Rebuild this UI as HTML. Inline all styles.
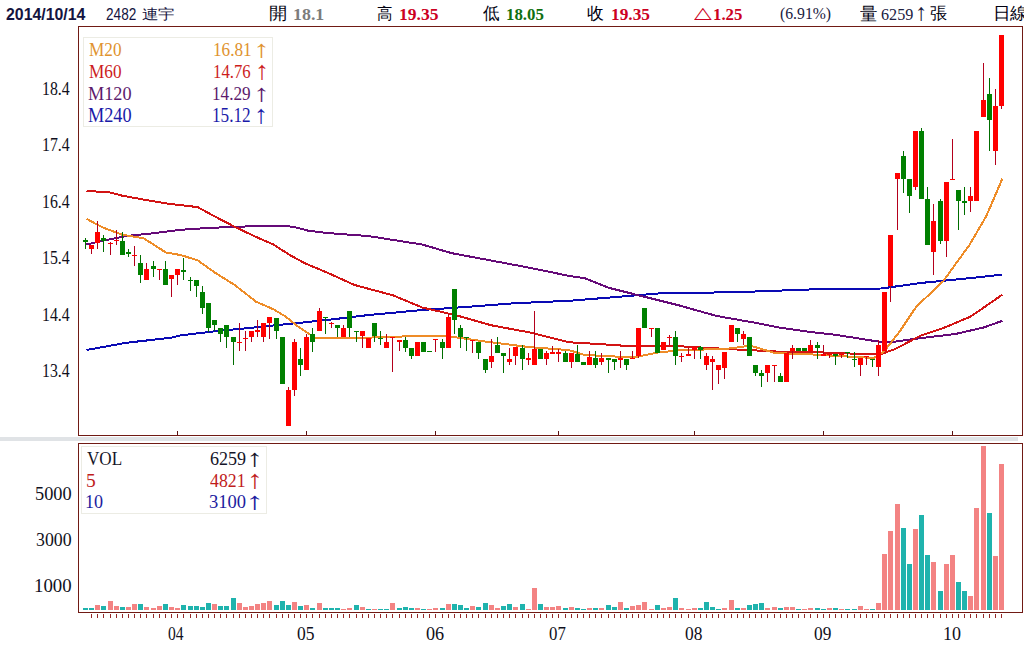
<!DOCTYPE html>
<html><head><meta charset="utf-8"><style>
html,body{margin:0;padding:0;background:#fff;width:1024px;height:662px;overflow:hidden}
.t{position:absolute;white-space:nowrap;line-height:1;transform-origin:0 0}
.s{font-family:"Liberation Serif",serif}
.a{font-family:"Liberation Sans",sans-serif}
</style></head><body>
<svg width="1024" height="662" style="position:absolute;left:0;top:0" shape-rendering="crispEdges">
<rect x="0" y="437" width="1018" height="4" fill="#e0e3e6"/>
<rect x="78.5" y="26.5" width="944" height="409" fill="none" stroke="#701a14" stroke-width="1"/>
<rect x="78.5" y="443.5" width="944" height="169" fill="none" stroke="#701a14" stroke-width="1"/>
<rect x="83.5" y="37.5" width="189" height="89" fill="none" stroke="#ecece4" stroke-width="1"/>
<rect x="81.5" y="446.5" width="185" height="67" fill="none" stroke="#ecece4" stroke-width="1"/>
<rect x="177" y="431" width="1" height="4" fill="#5a1010"/><rect x="306" y="431" width="1" height="4" fill="#5a1010"/><rect x="435" y="431" width="1" height="4" fill="#5a1010"/><rect x="558" y="431" width="1" height="4" fill="#5a1010"/><rect x="694" y="431" width="1" height="4" fill="#5a1010"/><rect x="823" y="431" width="1" height="4" fill="#5a1010"/><rect x="952" y="431" width="1" height="4" fill="#5a1010"/>
<rect x="91" y="614" width="1" height="4" fill="#962828"/>
<rect x="97" y="614" width="1" height="4" fill="#962828"/>
<rect x="103" y="614" width="1" height="4" fill="#962828"/>
<rect x="110" y="614" width="1" height="4" fill="#962828"/>
<rect x="116" y="614" width="1" height="4" fill="#962828"/>
<rect x="122" y="614" width="1" height="4" fill="#962828"/>
<rect x="128" y="614" width="1" height="4" fill="#962828"/>
<rect x="134" y="614" width="1" height="4" fill="#962828"/>
<rect x="140" y="614" width="1" height="4" fill="#962828"/>
<rect x="146" y="614" width="1" height="4" fill="#962828"/>
<rect x="153" y="614" width="1" height="4" fill="#962828"/>
<rect x="159" y="614" width="1" height="4" fill="#962828"/>
<rect x="165" y="614" width="1" height="4" fill="#962828"/>
<rect x="171" y="614" width="1" height="4" fill="#962828"/>
<rect x="177" y="614" width="1" height="4" fill="#962828"/>
<rect x="183" y="614" width="1" height="4" fill="#962828"/>
<rect x="190" y="614" width="1" height="4" fill="#962828"/>
<rect x="196" y="614" width="1" height="4" fill="#962828"/>
<rect x="202" y="614" width="1" height="4" fill="#962828"/>
<rect x="208" y="614" width="1" height="4" fill="#962828"/>
<rect x="214" y="614" width="1" height="4" fill="#962828"/>
<rect x="220" y="614" width="1" height="4" fill="#962828"/>
<rect x="226" y="614" width="1" height="4" fill="#962828"/>
<rect x="233" y="614" width="1" height="4" fill="#962828"/>
<rect x="239" y="614" width="1" height="4" fill="#962828"/>
<rect x="245" y="614" width="1" height="4" fill="#962828"/>
<rect x="251" y="614" width="1" height="4" fill="#962828"/>
<rect x="257" y="614" width="1" height="4" fill="#962828"/>
<rect x="263" y="614" width="1" height="4" fill="#962828"/>
<rect x="269" y="614" width="1" height="4" fill="#962828"/>
<rect x="276" y="614" width="1" height="4" fill="#962828"/>
<rect x="282" y="614" width="1" height="4" fill="#962828"/>
<rect x="288" y="614" width="1" height="4" fill="#962828"/>
<rect x="294" y="614" width="1" height="4" fill="#962828"/>
<rect x="300" y="614" width="1" height="4" fill="#962828"/>
<rect x="306" y="614" width="1" height="4" fill="#962828"/>
<rect x="312" y="614" width="1" height="4" fill="#962828"/>
<rect x="319" y="614" width="1" height="4" fill="#962828"/>
<rect x="325" y="614" width="1" height="4" fill="#962828"/>
<rect x="331" y="614" width="1" height="4" fill="#962828"/>
<rect x="337" y="614" width="1" height="4" fill="#962828"/>
<rect x="343" y="614" width="1" height="4" fill="#962828"/>
<rect x="349" y="614" width="1" height="4" fill="#962828"/>
<rect x="356" y="614" width="1" height="4" fill="#962828"/>
<rect x="362" y="614" width="1" height="4" fill="#962828"/>
<rect x="368" y="614" width="1" height="4" fill="#962828"/>
<rect x="374" y="614" width="1" height="4" fill="#962828"/>
<rect x="380" y="614" width="1" height="4" fill="#962828"/>
<rect x="386" y="614" width="1" height="4" fill="#962828"/>
<rect x="392" y="614" width="1" height="4" fill="#962828"/>
<rect x="399" y="614" width="1" height="4" fill="#962828"/>
<rect x="405" y="614" width="1" height="4" fill="#962828"/>
<rect x="411" y="614" width="1" height="4" fill="#962828"/>
<rect x="417" y="614" width="1" height="4" fill="#962828"/>
<rect x="423" y="614" width="1" height="4" fill="#962828"/>
<rect x="429" y="614" width="1" height="4" fill="#962828"/>
<rect x="435" y="614" width="1" height="4" fill="#962828"/>
<rect x="442" y="614" width="1" height="4" fill="#962828"/>
<rect x="448" y="614" width="1" height="4" fill="#962828"/>
<rect x="454" y="614" width="1" height="4" fill="#962828"/>
<rect x="460" y="614" width="1" height="4" fill="#962828"/>
<rect x="466" y="614" width="1" height="4" fill="#962828"/>
<rect x="472" y="614" width="1" height="4" fill="#962828"/>
<rect x="478" y="614" width="1" height="4" fill="#962828"/>
<rect x="485" y="614" width="1" height="4" fill="#962828"/>
<rect x="491" y="614" width="1" height="4" fill="#962828"/>
<rect x="497" y="614" width="1" height="4" fill="#962828"/>
<rect x="503" y="614" width="1" height="4" fill="#962828"/>
<rect x="509" y="614" width="1" height="4" fill="#962828"/>
<rect x="515" y="614" width="1" height="4" fill="#962828"/>
<rect x="522" y="614" width="1" height="4" fill="#962828"/>
<rect x="528" y="614" width="1" height="4" fill="#962828"/>
<rect x="534" y="614" width="1" height="4" fill="#962828"/>
<rect x="540" y="614" width="1" height="4" fill="#962828"/>
<rect x="546" y="614" width="1" height="4" fill="#962828"/>
<rect x="552" y="614" width="1" height="4" fill="#962828"/>
<rect x="558" y="614" width="1" height="4" fill="#962828"/>
<rect x="565" y="614" width="1" height="4" fill="#962828"/>
<rect x="571" y="614" width="1" height="4" fill="#962828"/>
<rect x="577" y="614" width="1" height="4" fill="#962828"/>
<rect x="583" y="614" width="1" height="4" fill="#962828"/>
<rect x="589" y="614" width="1" height="4" fill="#962828"/>
<rect x="595" y="614" width="1" height="4" fill="#962828"/>
<rect x="601" y="614" width="1" height="4" fill="#962828"/>
<rect x="608" y="614" width="1" height="4" fill="#962828"/>
<rect x="614" y="614" width="1" height="4" fill="#962828"/>
<rect x="620" y="614" width="1" height="4" fill="#962828"/>
<rect x="626" y="614" width="1" height="4" fill="#962828"/>
<rect x="632" y="614" width="1" height="4" fill="#962828"/>
<rect x="638" y="614" width="1" height="4" fill="#962828"/>
<rect x="644" y="614" width="1" height="4" fill="#962828"/>
<rect x="651" y="614" width="1" height="4" fill="#962828"/>
<rect x="657" y="614" width="1" height="4" fill="#962828"/>
<rect x="663" y="614" width="1" height="4" fill="#962828"/>
<rect x="669" y="614" width="1" height="4" fill="#962828"/>
<rect x="675" y="614" width="1" height="4" fill="#962828"/>
<rect x="681" y="614" width="1" height="4" fill="#962828"/>
<rect x="688" y="614" width="1" height="4" fill="#962828"/>
<rect x="694" y="614" width="1" height="4" fill="#962828"/>
<rect x="700" y="614" width="1" height="4" fill="#962828"/>
<rect x="706" y="614" width="1" height="4" fill="#962828"/>
<rect x="712" y="614" width="1" height="4" fill="#962828"/>
<rect x="718" y="614" width="1" height="4" fill="#962828"/>
<rect x="724" y="614" width="1" height="4" fill="#962828"/>
<rect x="731" y="614" width="1" height="4" fill="#962828"/>
<rect x="737" y="614" width="1" height="4" fill="#962828"/>
<rect x="743" y="614" width="1" height="4" fill="#962828"/>
<rect x="749" y="614" width="1" height="4" fill="#962828"/>
<rect x="755" y="614" width="1" height="4" fill="#962828"/>
<rect x="761" y="614" width="1" height="4" fill="#962828"/>
<rect x="767" y="614" width="1" height="4" fill="#962828"/>
<rect x="774" y="614" width="1" height="4" fill="#962828"/>
<rect x="780" y="614" width="1" height="4" fill="#962828"/>
<rect x="786" y="614" width="1" height="4" fill="#962828"/>
<rect x="792" y="614" width="1" height="4" fill="#962828"/>
<rect x="798" y="614" width="1" height="4" fill="#962828"/>
<rect x="804" y="614" width="1" height="4" fill="#962828"/>
<rect x="810" y="614" width="1" height="4" fill="#962828"/>
<rect x="817" y="614" width="1" height="4" fill="#962828"/>
<rect x="823" y="614" width="1" height="4" fill="#962828"/>
<rect x="829" y="614" width="1" height="4" fill="#962828"/>
<rect x="835" y="614" width="1" height="4" fill="#962828"/>
<rect x="841" y="614" width="1" height="4" fill="#962828"/>
<rect x="847" y="614" width="1" height="4" fill="#962828"/>
<rect x="854" y="614" width="1" height="4" fill="#962828"/>
<rect x="860" y="614" width="1" height="4" fill="#962828"/>
<rect x="866" y="614" width="1" height="4" fill="#962828"/>
<rect x="872" y="614" width="1" height="4" fill="#962828"/>
<rect x="878" y="614" width="1" height="4" fill="#962828"/>
<rect x="884" y="614" width="1" height="4" fill="#962828"/>
<rect x="890" y="614" width="1" height="4" fill="#962828"/>
<rect x="897" y="614" width="1" height="4" fill="#962828"/>
<rect x="903" y="614" width="1" height="4" fill="#962828"/>
<rect x="909" y="614" width="1" height="4" fill="#962828"/>
<rect x="915" y="614" width="1" height="4" fill="#962828"/>
<rect x="921" y="614" width="1" height="4" fill="#962828"/>
<rect x="927" y="614" width="1" height="4" fill="#962828"/>
<rect x="933" y="614" width="1" height="4" fill="#962828"/>
<rect x="940" y="614" width="1" height="4" fill="#962828"/>
<rect x="946" y="614" width="1" height="4" fill="#962828"/>
<rect x="952" y="614" width="1" height="4" fill="#962828"/>
<rect x="958" y="614" width="1" height="4" fill="#962828"/>
<rect x="964" y="614" width="1" height="4" fill="#962828"/>
<rect x="970" y="614" width="1" height="4" fill="#962828"/>
<rect x="976" y="614" width="1" height="4" fill="#962828"/>
<rect x="983" y="614" width="1" height="4" fill="#962828"/>
<rect x="989" y="614" width="1" height="4" fill="#962828"/>
<rect x="995" y="614" width="1" height="4" fill="#962828"/>
<rect x="1001" y="614" width="1" height="4" fill="#962828"/>
<rect x="83" y="608" width="5" height="2" fill="#1fb3ad"/>
<rect x="89" y="608" width="5" height="2" fill="#1fb3ad"/>
<rect x="95" y="605" width="5" height="5" fill="#f38383"/>
<rect x="101" y="606" width="5" height="4" fill="#1fb3ad"/>
<rect x="108" y="601" width="5" height="9" fill="#f38383"/>
<rect x="114" y="606" width="5" height="4" fill="#f38383"/>
<rect x="120" y="607" width="5" height="3" fill="#1fb3ad"/>
<rect x="126" y="607" width="5" height="3" fill="#f38383"/>
<rect x="132" y="604" width="5" height="6" fill="#f38383"/>
<rect x="138" y="604" width="5" height="6" fill="#1fb3ad"/>
<rect x="144" y="607" width="5" height="3" fill="#f38383"/>
<rect x="151" y="608" width="5" height="2" fill="#f38383"/>
<rect x="157" y="606" width="5" height="4" fill="#f38383"/>
<rect x="163" y="604" width="5" height="6" fill="#1fb3ad"/>
<rect x="169" y="607" width="5" height="3" fill="#f38383"/>
<rect x="175" y="608" width="5" height="2" fill="#f38383"/>
<rect x="181" y="605" width="5" height="5" fill="#1fb3ad"/>
<rect x="188" y="606" width="5" height="4" fill="#1fb3ad"/>
<rect x="194" y="606" width="5" height="4" fill="#1fb3ad"/>
<rect x="200" y="607" width="5" height="3" fill="#1fb3ad"/>
<rect x="206" y="603" width="5" height="7" fill="#1fb3ad"/>
<rect x="212" y="604" width="5" height="6" fill="#f38383"/>
<rect x="218" y="606" width="5" height="4" fill="#1fb3ad"/>
<rect x="224" y="606" width="5" height="4" fill="#1fb3ad"/>
<rect x="231" y="598" width="5" height="12" fill="#1fb3ad"/>
<rect x="237" y="603" width="5" height="7" fill="#f38383"/>
<rect x="243" y="607" width="5" height="3" fill="#f38383"/>
<rect x="249" y="606" width="5" height="4" fill="#f38383"/>
<rect x="255" y="604" width="5" height="6" fill="#f38383"/>
<rect x="261" y="603" width="5" height="7" fill="#f38383"/>
<rect x="267" y="601" width="5" height="9" fill="#f38383"/>
<rect x="274" y="605" width="5" height="5" fill="#1fb3ad"/>
<rect x="280" y="601" width="5" height="9" fill="#1fb3ad"/>
<rect x="286" y="605" width="5" height="5" fill="#1fb3ad"/>
<rect x="292" y="602" width="5" height="8" fill="#f38383"/>
<rect x="298" y="606" width="5" height="4" fill="#1fb3ad"/>
<rect x="304" y="605" width="5" height="5" fill="#f38383"/>
<rect x="310" y="608" width="5" height="2" fill="#1fb3ad"/>
<rect x="317" y="603" width="5" height="7" fill="#f38383"/>
<rect x="323" y="608" width="5" height="2" fill="#1fb3ad"/>
<rect x="329" y="608" width="5" height="2" fill="#1fb3ad"/>
<rect x="335" y="608" width="5" height="2" fill="#1fb3ad"/>
<rect x="341" y="609" width="5" height="1" fill="#f38383"/>
<rect x="347" y="608" width="5" height="2" fill="#f38383"/>
<rect x="354" y="605" width="5" height="5" fill="#1fb3ad"/>
<rect x="360" y="607" width="5" height="3" fill="#f38383"/>
<rect x="366" y="609" width="5" height="1" fill="#1fb3ad"/>
<rect x="372" y="609" width="5" height="1" fill="#f38383"/>
<rect x="378" y="609" width="5" height="1" fill="#1fb3ad"/>
<rect x="384" y="609" width="5" height="1" fill="#1fb3ad"/>
<rect x="390" y="603" width="5" height="7" fill="#f38383"/>
<rect x="397" y="608" width="5" height="2" fill="#1fb3ad"/>
<rect x="403" y="607" width="5" height="3" fill="#1fb3ad"/>
<rect x="409" y="608" width="5" height="2" fill="#1fb3ad"/>
<rect x="415" y="608" width="5" height="2" fill="#f38383"/>
<rect x="421" y="609" width="5" height="1" fill="#1fb3ad"/>
<rect x="427" y="609" width="5" height="1" fill="#f38383"/>
<rect x="433" y="608" width="5" height="2" fill="#f38383"/>
<rect x="440" y="608" width="5" height="2" fill="#1fb3ad"/>
<rect x="446" y="604" width="5" height="6" fill="#f38383"/>
<rect x="452" y="604" width="5" height="6" fill="#1fb3ad"/>
<rect x="458" y="605" width="5" height="5" fill="#1fb3ad"/>
<rect x="464" y="608" width="5" height="2" fill="#1fb3ad"/>
<rect x="470" y="606" width="5" height="4" fill="#f38383"/>
<rect x="476" y="607" width="5" height="3" fill="#1fb3ad"/>
<rect x="483" y="603" width="5" height="7" fill="#1fb3ad"/>
<rect x="489" y="605" width="5" height="5" fill="#f38383"/>
<rect x="495" y="608" width="5" height="2" fill="#f38383"/>
<rect x="501" y="606" width="5" height="4" fill="#1fb3ad"/>
<rect x="507" y="604" width="5" height="6" fill="#1fb3ad"/>
<rect x="513" y="607" width="5" height="3" fill="#f38383"/>
<rect x="520" y="604" width="5" height="6" fill="#1fb3ad"/>
<rect x="526" y="609" width="5" height="1" fill="#f38383"/>
<rect x="532" y="588" width="5" height="22" fill="#f38383"/>
<rect x="538" y="604" width="5" height="6" fill="#1fb3ad"/>
<rect x="544" y="607" width="5" height="3" fill="#f38383"/>
<rect x="550" y="607" width="5" height="3" fill="#f38383"/>
<rect x="556" y="606" width="5" height="4" fill="#f38383"/>
<rect x="563" y="608" width="5" height="2" fill="#1fb3ad"/>
<rect x="569" y="607" width="5" height="3" fill="#f38383"/>
<rect x="575" y="608" width="5" height="2" fill="#1fb3ad"/>
<rect x="581" y="609" width="5" height="1" fill="#1fb3ad"/>
<rect x="587" y="608" width="5" height="2" fill="#f38383"/>
<rect x="593" y="608" width="5" height="2" fill="#1fb3ad"/>
<rect x="599" y="608" width="5" height="2" fill="#f38383"/>
<rect x="606" y="605" width="5" height="5" fill="#1fb3ad"/>
<rect x="612" y="607" width="5" height="3" fill="#1fb3ad"/>
<rect x="618" y="602" width="5" height="8" fill="#f38383"/>
<rect x="624" y="608" width="5" height="2" fill="#1fb3ad"/>
<rect x="630" y="606" width="5" height="4" fill="#f38383"/>
<rect x="636" y="605" width="5" height="5" fill="#f38383"/>
<rect x="642" y="602" width="5" height="8" fill="#f38383"/>
<rect x="649" y="609" width="5" height="1" fill="#f38383"/>
<rect x="655" y="605" width="5" height="5" fill="#1fb3ad"/>
<rect x="661" y="608" width="5" height="2" fill="#f38383"/>
<rect x="667" y="607" width="5" height="3" fill="#f38383"/>
<rect x="673" y="598" width="5" height="12" fill="#1fb3ad"/>
<rect x="679" y="608" width="5" height="2" fill="#f38383"/>
<rect x="686" y="609" width="5" height="1" fill="#f38383"/>
<rect x="692" y="608" width="5" height="2" fill="#f38383"/>
<rect x="698" y="608" width="5" height="2" fill="#1fb3ad"/>
<rect x="704" y="602" width="5" height="8" fill="#1fb3ad"/>
<rect x="710" y="607" width="5" height="3" fill="#1fb3ad"/>
<rect x="716" y="609" width="5" height="1" fill="#1fb3ad"/>
<rect x="722" y="608" width="5" height="2" fill="#f38383"/>
<rect x="729" y="600" width="5" height="10" fill="#f38383"/>
<rect x="735" y="608" width="5" height="2" fill="#1fb3ad"/>
<rect x="741" y="608" width="5" height="2" fill="#f38383"/>
<rect x="747" y="605" width="5" height="5" fill="#1fb3ad"/>
<rect x="753" y="604" width="5" height="6" fill="#1fb3ad"/>
<rect x="759" y="603" width="5" height="7" fill="#1fb3ad"/>
<rect x="765" y="608" width="5" height="2" fill="#f38383"/>
<rect x="772" y="607" width="5" height="3" fill="#f38383"/>
<rect x="778" y="608" width="5" height="2" fill="#1fb3ad"/>
<rect x="784" y="607" width="5" height="3" fill="#f38383"/>
<rect x="790" y="607" width="5" height="3" fill="#f38383"/>
<rect x="796" y="609" width="5" height="1" fill="#1fb3ad"/>
<rect x="802" y="609" width="5" height="1" fill="#f38383"/>
<rect x="808" y="608" width="5" height="2" fill="#f38383"/>
<rect x="815" y="608" width="5" height="2" fill="#1fb3ad"/>
<rect x="821" y="609" width="5" height="1" fill="#1fb3ad"/>
<rect x="827" y="608" width="5" height="2" fill="#f38383"/>
<rect x="833" y="608" width="5" height="2" fill="#1fb3ad"/>
<rect x="839" y="609" width="5" height="1" fill="#f38383"/>
<rect x="845" y="609" width="5" height="1" fill="#1fb3ad"/>
<rect x="852" y="609" width="5" height="1" fill="#1fb3ad"/>
<rect x="858" y="606" width="5" height="4" fill="#f38383"/>
<rect x="864" y="609" width="5" height="1" fill="#f38383"/>
<rect x="870" y="609" width="5" height="1" fill="#1fb3ad"/>
<rect x="876" y="603" width="5" height="7" fill="#f38383"/>
<rect x="882" y="554" width="5" height="56" fill="#f38383"/>
<rect x="888" y="531" width="5" height="79" fill="#f38383"/>
<rect x="895" y="504" width="5" height="106" fill="#f38383"/>
<rect x="901" y="528" width="5" height="82" fill="#1fb3ad"/>
<rect x="907" y="564" width="5" height="46" fill="#1fb3ad"/>
<rect x="913" y="529" width="5" height="81" fill="#f38383"/>
<rect x="919" y="515" width="5" height="95" fill="#1fb3ad"/>
<rect x="925" y="555" width="5" height="55" fill="#1fb3ad"/>
<rect x="931" y="562" width="5" height="48" fill="#f38383"/>
<rect x="938" y="591" width="5" height="19" fill="#1fb3ad"/>
<rect x="944" y="564" width="5" height="46" fill="#f38383"/>
<rect x="950" y="555" width="5" height="55" fill="#f38383"/>
<rect x="956" y="582" width="5" height="28" fill="#1fb3ad"/>
<rect x="962" y="591" width="5" height="19" fill="#1fb3ad"/>
<rect x="968" y="596" width="5" height="14" fill="#f38383"/>
<rect x="974" y="508" width="5" height="102" fill="#f38383"/>
<rect x="981" y="446" width="5" height="164" fill="#f38383"/>
<rect x="987" y="513" width="5" height="97" fill="#1fb3ad"/>
<rect x="993" y="556" width="5" height="54" fill="#f38383"/>
<rect x="999" y="464" width="5" height="146" fill="#f38383"/>
<polyline points="86.5,350.0 126.8,342.7 170.8,337.8 180.5,335.4 214.7,331.3 248.9,328.0 288.0,324.0 327.0,320.0 368.8,315.0 422.5,310.0 466.5,306.9 515.3,303.2 569.0,300.8 608.8,297.6 657.7,293.5 706.5,292.7 755.3,291.5 809.0,289.5 881.4,288.5 920.5,283.0 969.3,278.2 1002.3,274.6" fill="none" stroke="#0a0ab4" stroke-width="2" stroke-linejoin="round"/><polyline points="86.5,244.5 102.4,240.8 126.8,235.9 151.2,233.5 180.5,229.8 209.8,227.9 234.3,226.9 268.4,225.7 292.8,226.6 307.5,230.5 327.0,233.0 368.8,236.1 422.5,244.6 451.8,253.2 490.9,260.5 530.0,267.8 569.0,275.9 584.4,278.1 608.8,287.8 638.1,295.2 677.2,304.9 716.3,315.9 755.3,322.8 779.7,327.6 809.0,331.8 835.0,334.7 876.5,341.3 890.0,342.3 917.7,338.5 955.5,334.0 984.0,327.4 1002.3,320.8" fill="none" stroke="#650a78" stroke-width="2" stroke-linejoin="round"/><polyline points="86.5,190.8 109.7,192.5 122.0,195.6 148.8,200.5 168.3,203.7 197.6,207.1 214.7,216.4 234.3,226.6 253.8,235.9 273.3,244.5 290.4,255.4 305.0,263.3 327.0,272.5 354.2,284.9 393.2,295.4 422.5,307.6 456.7,315.4 490.9,325.2 530.0,332.5 569.0,342.3 599.0,344.0 633.2,346.4 682.0,346.4 730.9,349.2 780.0,351.7 815.0,352.2 850.0,353.5 880.0,354.4 895.1,349.1 920.8,335.5 943.4,328.0 970.6,316.6 1002.3,294.7" fill="none" stroke="#d21414" stroke-width="2" stroke-linejoin="round"/><polyline points="86.5,218.8 102.4,227.4 122.0,234.7 143.9,238.4 165.9,252.5 180.5,255.0 197.6,260.3 214.7,272.5 234.3,284.7 256.2,301.8 273.3,309.2 285.5,316.5 297.7,326.2 315.0,337.8 393.2,337.4 412.8,335.5 437.2,335.5 456.7,337.4 490.9,342.3 530.0,347.2 569.0,350.1 584.4,355.0 633.2,357.4 657.7,352.5 682.0,350.1 726.0,348.9 750.4,345.7 774.8,353.0 815.0,354.6 856.0,357.0 874.0,358.0 884.5,351.0 900.0,331.0 916.2,306.8 943.4,281.1 958.5,260.0 969.3,245.2 986.4,215.9 1002.3,178.8" fill="none" stroke="#ee8c28" stroke-width="2" stroke-linejoin="round"/>
<rect x="85" y="238" width="1" height="11" fill="#006e00"/>
<rect x="83" y="240" width="5" height="2" fill="#008000"/>
<rect x="91" y="245" width="1" height="9" fill="#b4001c"/>
<rect x="89" y="245" width="5" height="4" fill="#ff0000"/>
<rect x="97" y="221" width="1" height="28" fill="#b4001c"/>
<rect x="95" y="232" width="5" height="11" fill="#ff0000"/>
<rect x="103" y="235" width="1" height="17" fill="#006e00"/>
<rect x="101" y="238" width="5" height="3" fill="#008000"/>
<rect x="110" y="242" width="1" height="13" fill="#b4001c"/>
<rect x="108" y="243" width="5" height="1" fill="#ff0000"/>
<rect x="116" y="230" width="1" height="15" fill="#b4001c"/>
<rect x="114" y="240" width="5" height="1" fill="#ff0000"/>
<rect x="122" y="232" width="1" height="23" fill="#006e00"/>
<rect x="120" y="241" width="5" height="14" fill="#008000"/>
<rect x="128" y="249" width="1" height="8" fill="#006e00"/>
<rect x="126" y="252" width="5" height="2" fill="#008000"/>
<rect x="134" y="246" width="1" height="20" fill="#b4001c"/>
<rect x="132" y="255" width="5" height="1" fill="#ff0000"/>
<rect x="140" y="255" width="1" height="28" fill="#006e00"/>
<rect x="138" y="263" width="5" height="12" fill="#008000"/>
<rect x="146" y="263" width="1" height="17" fill="#b4001c"/>
<rect x="144" y="269" width="5" height="11" fill="#ff0000"/>
<rect x="153" y="261" width="1" height="16" fill="#006e00"/>
<rect x="151" y="266" width="5" height="3" fill="#008000"/>
<rect x="159" y="269" width="1" height="11" fill="#b4001c"/>
<rect x="157" y="269" width="5" height="1" fill="#ff0000"/>
<rect x="165" y="261" width="1" height="24" fill="#006e00"/>
<rect x="163" y="269" width="5" height="16" fill="#008000"/>
<rect x="171" y="275" width="1" height="22" fill="#b4001c"/>
<rect x="169" y="275" width="5" height="4" fill="#ff0000"/>
<rect x="177" y="269" width="1" height="16" fill="#b4001c"/>
<rect x="175" y="269" width="5" height="6" fill="#ff0000"/>
<rect x="183" y="258" width="1" height="22" fill="#006e00"/>
<rect x="181" y="270" width="5" height="2" fill="#008000"/>
<rect x="190" y="277" width="1" height="14" fill="#006e00"/>
<rect x="188" y="280" width="5" height="1" fill="#008000"/>
<rect x="196" y="280" width="1" height="17" fill="#006e00"/>
<rect x="194" y="280" width="5" height="6" fill="#008000"/>
<rect x="202" y="286" width="1" height="28" fill="#006e00"/>
<rect x="200" y="292" width="5" height="16" fill="#008000"/>
<rect x="208" y="303" width="1" height="29" fill="#006e00"/>
<rect x="206" y="303" width="5" height="25" fill="#008000"/>
<rect x="214" y="320" width="1" height="11" fill="#006e00"/>
<rect x="212" y="320" width="5" height="5" fill="#008000"/>
<rect x="220" y="328" width="1" height="14" fill="#006e00"/>
<rect x="218" y="328" width="5" height="6" fill="#008000"/>
<rect x="226" y="325" width="1" height="23" fill="#006e00"/>
<rect x="224" y="325" width="5" height="12" fill="#008000"/>
<rect x="233" y="337" width="1" height="28" fill="#006e00"/>
<rect x="231" y="337" width="5" height="5" fill="#008000"/>
<rect x="239" y="323" width="1" height="28" fill="#b4001c"/>
<rect x="237" y="342" width="5" height="1" fill="#ff0000"/>
<rect x="245" y="331" width="1" height="20" fill="#b4001c"/>
<rect x="243" y="338" width="5" height="1" fill="#ff0000"/>
<rect x="251" y="331" width="1" height="11" fill="#b4001c"/>
<rect x="249" y="331" width="5" height="6" fill="#ff0000"/>
<rect x="257" y="320" width="1" height="17" fill="#b4001c"/>
<rect x="255" y="330" width="5" height="2" fill="#ff0000"/>
<rect x="263" y="323" width="1" height="19" fill="#b4001c"/>
<rect x="261" y="323" width="5" height="14" fill="#ff0000"/>
<rect x="269" y="317" width="1" height="22" fill="#b4001c"/>
<rect x="267" y="317" width="5" height="6" fill="#ff0000"/>
<rect x="276" y="318" width="1" height="21" fill="#006e00"/>
<rect x="274" y="318" width="5" height="13" fill="#008000"/>
<rect x="282" y="337" width="1" height="47" fill="#006e00"/>
<rect x="280" y="337" width="5" height="47" fill="#008000"/>
<rect x="288" y="387" width="1" height="39" fill="#b4001c"/>
<rect x="286" y="390" width="5" height="36" fill="#ff0000"/>
<rect x="294" y="339" width="1" height="57" fill="#b4001c"/>
<rect x="292" y="342" width="5" height="48" fill="#ff0000"/>
<rect x="300" y="348" width="1" height="28" fill="#006e00"/>
<rect x="298" y="359" width="5" height="6" fill="#008000"/>
<rect x="306" y="334" width="1" height="36" fill="#b4001c"/>
<rect x="304" y="337" width="5" height="33" fill="#ff0000"/>
<rect x="312" y="328" width="1" height="24" fill="#006e00"/>
<rect x="310" y="334" width="5" height="8" fill="#008000"/>
<rect x="319" y="308" width="1" height="23" fill="#b4001c"/>
<rect x="317" y="311" width="5" height="20" fill="#ff0000"/>
<rect x="325" y="317" width="1" height="17" fill="#006e00"/>
<rect x="323" y="317" width="5" height="1" fill="#008000"/>
<rect x="331" y="322" width="1" height="6" fill="#b4001c"/>
<rect x="329" y="323" width="5" height="1" fill="#ff0000"/>
<rect x="337" y="325" width="1" height="12" fill="#006e00"/>
<rect x="335" y="325" width="5" height="3" fill="#008000"/>
<rect x="343" y="325" width="1" height="12" fill="#b4001c"/>
<rect x="341" y="328" width="5" height="9" fill="#ff0000"/>
<rect x="349" y="311" width="1" height="26" fill="#006e00"/>
<rect x="347" y="311" width="5" height="17" fill="#008000"/>
<rect x="356" y="331" width="1" height="11" fill="#006e00"/>
<rect x="354" y="331" width="5" height="1" fill="#008000"/>
<rect x="362" y="331" width="1" height="17" fill="#b4001c"/>
<rect x="360" y="331" width="5" height="5" fill="#ff0000"/>
<rect x="368" y="338" width="1" height="10" fill="#b4001c"/>
<rect x="366" y="338" width="5" height="10" fill="#ff0000"/>
<rect x="374" y="323" width="1" height="19" fill="#006e00"/>
<rect x="372" y="323" width="5" height="13" fill="#008000"/>
<rect x="380" y="331" width="1" height="14" fill="#006e00"/>
<rect x="378" y="338" width="5" height="1" fill="#008000"/>
<rect x="386" y="334" width="1" height="14" fill="#b4001c"/>
<rect x="384" y="342" width="5" height="6" fill="#ff0000"/>
<rect x="392" y="337" width="1" height="35" fill="#b4001c"/>
<rect x="390" y="337" width="5" height="1" fill="#ff0000"/>
<rect x="399" y="340" width="1" height="11" fill="#b4001c"/>
<rect x="397" y="340" width="5" height="2" fill="#ff0000"/>
<rect x="405" y="337" width="1" height="15" fill="#006e00"/>
<rect x="403" y="340" width="5" height="8" fill="#008000"/>
<rect x="411" y="348" width="1" height="11" fill="#006e00"/>
<rect x="409" y="348" width="5" height="8" fill="#008000"/>
<rect x="417" y="342" width="1" height="14" fill="#b4001c"/>
<rect x="415" y="342" width="5" height="14" fill="#ff0000"/>
<rect x="423" y="342" width="1" height="10" fill="#006e00"/>
<rect x="421" y="342" width="5" height="10" fill="#008000"/>
<rect x="429" y="351" width="1" height="1" fill="#006e00"/>
<rect x="427" y="351" width="5" height="1" fill="#008000"/>
<rect x="435" y="339" width="1" height="13" fill="#b4001c"/>
<rect x="433" y="339" width="5" height="1" fill="#ff0000"/>
<rect x="442" y="339" width="1" height="20" fill="#006e00"/>
<rect x="440" y="342" width="5" height="6" fill="#008000"/>
<rect x="448" y="314" width="1" height="34" fill="#b4001c"/>
<rect x="446" y="317" width="5" height="31" fill="#ff0000"/>
<rect x="454" y="289" width="1" height="45" fill="#006e00"/>
<rect x="452" y="289" width="5" height="31" fill="#008000"/>
<rect x="460" y="325" width="1" height="23" fill="#006e00"/>
<rect x="458" y="328" width="5" height="9" fill="#008000"/>
<rect x="466" y="337" width="1" height="14" fill="#006e00"/>
<rect x="464" y="337" width="5" height="1" fill="#008000"/>
<rect x="472" y="340" width="1" height="13" fill="#b4001c"/>
<rect x="470" y="340" width="5" height="1" fill="#ff0000"/>
<rect x="478" y="342" width="1" height="17" fill="#006e00"/>
<rect x="476" y="342" width="5" height="11" fill="#008000"/>
<rect x="485" y="359" width="1" height="14" fill="#006e00"/>
<rect x="483" y="359" width="5" height="11" fill="#008000"/>
<rect x="491" y="339" width="1" height="29" fill="#b4001c"/>
<rect x="489" y="356" width="5" height="6" fill="#ff0000"/>
<rect x="497" y="337" width="1" height="16" fill="#006e00"/>
<rect x="495" y="345" width="5" height="8" fill="#008000"/>
<rect x="503" y="353" width="1" height="20" fill="#006e00"/>
<rect x="501" y="353" width="5" height="3" fill="#008000"/>
<rect x="509" y="348" width="1" height="17" fill="#b4001c"/>
<rect x="507" y="359" width="5" height="3" fill="#ff0000"/>
<rect x="515" y="347" width="1" height="18" fill="#b4001c"/>
<rect x="513" y="347" width="5" height="9" fill="#ff0000"/>
<rect x="522" y="345" width="1" height="25" fill="#006e00"/>
<rect x="520" y="348" width="5" height="11" fill="#008000"/>
<rect x="528" y="353" width="1" height="12" fill="#b4001c"/>
<rect x="526" y="358" width="5" height="2" fill="#ff0000"/>
<rect x="534" y="311" width="1" height="54" fill="#b4001c"/>
<rect x="532" y="349" width="5" height="16" fill="#ff0000"/>
<rect x="540" y="349" width="1" height="10" fill="#006e00"/>
<rect x="538" y="349" width="5" height="10" fill="#008000"/>
<rect x="546" y="351" width="1" height="14" fill="#b4001c"/>
<rect x="544" y="353" width="5" height="6" fill="#ff0000"/>
<rect x="552" y="346" width="1" height="8" fill="#b4001c"/>
<rect x="550" y="352" width="5" height="2" fill="#ff0000"/>
<rect x="558" y="349" width="1" height="13" fill="#b4001c"/>
<rect x="556" y="352" width="5" height="2" fill="#ff0000"/>
<rect x="565" y="351" width="1" height="11" fill="#006e00"/>
<rect x="563" y="353" width="5" height="9" fill="#008000"/>
<rect x="571" y="353" width="1" height="15" fill="#b4001c"/>
<rect x="569" y="353" width="5" height="9" fill="#ff0000"/>
<rect x="577" y="345" width="1" height="17" fill="#006e00"/>
<rect x="575" y="354" width="5" height="8" fill="#008000"/>
<rect x="583" y="362" width="1" height="3" fill="#006e00"/>
<rect x="581" y="362" width="5" height="3" fill="#008000"/>
<rect x="589" y="351" width="1" height="14" fill="#b4001c"/>
<rect x="587" y="357" width="5" height="8" fill="#ff0000"/>
<rect x="595" y="351" width="1" height="17" fill="#006e00"/>
<rect x="593" y="358" width="5" height="7" fill="#008000"/>
<rect x="601" y="353" width="1" height="12" fill="#b4001c"/>
<rect x="599" y="358" width="5" height="4" fill="#ff0000"/>
<rect x="608" y="358" width="1" height="15" fill="#006e00"/>
<rect x="606" y="358" width="5" height="2" fill="#008000"/>
<rect x="614" y="359" width="1" height="11" fill="#006e00"/>
<rect x="612" y="359" width="5" height="3" fill="#008000"/>
<rect x="620" y="351" width="1" height="17" fill="#b4001c"/>
<rect x="618" y="358" width="5" height="2" fill="#ff0000"/>
<rect x="626" y="359" width="1" height="11" fill="#006e00"/>
<rect x="624" y="359" width="5" height="6" fill="#008000"/>
<rect x="632" y="351" width="1" height="8" fill="#b4001c"/>
<rect x="630" y="358" width="5" height="1" fill="#ff0000"/>
<rect x="638" y="328" width="1" height="30" fill="#b4001c"/>
<rect x="636" y="328" width="5" height="28" fill="#ff0000"/>
<rect x="644" y="308" width="1" height="20" fill="#006e00"/>
<rect x="642" y="308" width="5" height="20" fill="#008000"/>
<rect x="651" y="328" width="1" height="9" fill="#b4001c"/>
<rect x="649" y="328" width="5" height="1" fill="#ff0000"/>
<rect x="657" y="328" width="1" height="25" fill="#006e00"/>
<rect x="655" y="328" width="5" height="25" fill="#008000"/>
<rect x="663" y="342" width="1" height="8" fill="#b4001c"/>
<rect x="661" y="342" width="5" height="8" fill="#ff0000"/>
<rect x="669" y="335" width="1" height="10" fill="#b4001c"/>
<rect x="667" y="337" width="5" height="1" fill="#ff0000"/>
<rect x="675" y="331" width="1" height="34" fill="#006e00"/>
<rect x="673" y="337" width="5" height="19" fill="#008000"/>
<rect x="681" y="353" width="1" height="9" fill="#b4001c"/>
<rect x="679" y="356" width="5" height="1" fill="#ff0000"/>
<rect x="688" y="348" width="1" height="8" fill="#b4001c"/>
<rect x="686" y="354" width="5" height="2" fill="#ff0000"/>
<rect x="694" y="347" width="1" height="12" fill="#b4001c"/>
<rect x="692" y="347" width="5" height="3" fill="#ff0000"/>
<rect x="700" y="346" width="1" height="13" fill="#006e00"/>
<rect x="698" y="347" width="5" height="3" fill="#008000"/>
<rect x="706" y="353" width="1" height="17" fill="#b4001c"/>
<rect x="704" y="356" width="5" height="9" fill="#ff0000"/>
<rect x="712" y="356" width="1" height="34" fill="#b4001c"/>
<rect x="710" y="359" width="5" height="3" fill="#ff0000"/>
<rect x="718" y="365" width="1" height="19" fill="#b4001c"/>
<rect x="716" y="365" width="5" height="5" fill="#ff0000"/>
<rect x="724" y="352" width="1" height="27" fill="#b4001c"/>
<rect x="722" y="352" width="5" height="16" fill="#ff0000"/>
<rect x="731" y="325" width="1" height="17" fill="#b4001c"/>
<rect x="729" y="325" width="5" height="17" fill="#ff0000"/>
<rect x="737" y="328" width="1" height="14" fill="#006e00"/>
<rect x="735" y="328" width="5" height="6" fill="#008000"/>
<rect x="743" y="331" width="1" height="14" fill="#b4001c"/>
<rect x="741" y="334" width="5" height="5" fill="#ff0000"/>
<rect x="749" y="337" width="1" height="19" fill="#006e00"/>
<rect x="747" y="337" width="5" height="19" fill="#008000"/>
<rect x="755" y="365" width="1" height="11" fill="#006e00"/>
<rect x="753" y="365" width="5" height="8" fill="#008000"/>
<rect x="761" y="370" width="1" height="17" fill="#006e00"/>
<rect x="759" y="373" width="5" height="3" fill="#008000"/>
<rect x="767" y="365" width="1" height="17" fill="#b4001c"/>
<rect x="765" y="365" width="5" height="8" fill="#ff0000"/>
<rect x="774" y="365" width="1" height="17" fill="#b4001c"/>
<rect x="772" y="365" width="5" height="1" fill="#ff0000"/>
<rect x="780" y="373" width="1" height="9" fill="#006e00"/>
<rect x="778" y="376" width="5" height="6" fill="#008000"/>
<rect x="786" y="353" width="1" height="29" fill="#b4001c"/>
<rect x="784" y="353" width="5" height="29" fill="#ff0000"/>
<rect x="792" y="345" width="1" height="14" fill="#b4001c"/>
<rect x="790" y="348" width="5" height="3" fill="#ff0000"/>
<rect x="798" y="348" width="1" height="3" fill="#006e00"/>
<rect x="796" y="348" width="5" height="3" fill="#008000"/>
<rect x="804" y="348" width="1" height="3" fill="#006e00"/>
<rect x="802" y="348" width="5" height="3" fill="#008000"/>
<rect x="810" y="340" width="1" height="11" fill="#b4001c"/>
<rect x="808" y="345" width="5" height="6" fill="#ff0000"/>
<rect x="817" y="342" width="1" height="17" fill="#006e00"/>
<rect x="815" y="345" width="5" height="3" fill="#008000"/>
<rect x="823" y="345" width="1" height="11" fill="#b4001c"/>
<rect x="821" y="354" width="5" height="2" fill="#ff0000"/>
<rect x="829" y="354" width="1" height="4" fill="#b4001c"/>
<rect x="827" y="354" width="5" height="1" fill="#ff0000"/>
<rect x="835" y="354" width="1" height="11" fill="#006e00"/>
<rect x="833" y="354" width="5" height="2" fill="#008000"/>
<rect x="841" y="354" width="1" height="4" fill="#b4001c"/>
<rect x="839" y="354" width="5" height="1" fill="#ff0000"/>
<rect x="847" y="352" width="1" height="6" fill="#006e00"/>
<rect x="845" y="352" width="5" height="1" fill="#008000"/>
<rect x="854" y="352" width="1" height="15" fill="#006e00"/>
<rect x="852" y="359" width="5" height="1" fill="#008000"/>
<rect x="860" y="358" width="1" height="18" fill="#b4001c"/>
<rect x="858" y="358" width="5" height="7" fill="#ff0000"/>
<rect x="866" y="356" width="1" height="9" fill="#b4001c"/>
<rect x="864" y="356" width="5" height="1" fill="#ff0000"/>
<rect x="872" y="359" width="1" height="8" fill="#006e00"/>
<rect x="870" y="359" width="5" height="1" fill="#008000"/>
<rect x="878" y="340" width="1" height="36" fill="#b4001c"/>
<rect x="876" y="345" width="5" height="22" fill="#ff0000"/>
<rect x="884" y="292" width="1" height="59" fill="#b4001c"/>
<rect x="882" y="292" width="5" height="59" fill="#ff0000"/>
<rect x="890" y="235" width="1" height="67" fill="#b4001c"/>
<rect x="888" y="235" width="5" height="51" fill="#ff0000"/>
<rect x="897" y="173" width="1" height="57" fill="#b4001c"/>
<rect x="895" y="173" width="5" height="6" fill="#ff0000"/>
<rect x="903" y="151" width="1" height="42" fill="#006e00"/>
<rect x="901" y="156" width="5" height="23" fill="#008000"/>
<rect x="909" y="179" width="1" height="34" fill="#006e00"/>
<rect x="907" y="179" width="5" height="17" fill="#008000"/>
<rect x="915" y="131" width="1" height="59" fill="#b4001c"/>
<rect x="913" y="131" width="5" height="56" fill="#ff0000"/>
<rect x="921" y="128" width="1" height="71" fill="#006e00"/>
<rect x="919" y="131" width="5" height="68" fill="#008000"/>
<rect x="927" y="187" width="1" height="58" fill="#006e00"/>
<rect x="925" y="199" width="5" height="46" fill="#008000"/>
<rect x="933" y="204" width="1" height="71" fill="#b4001c"/>
<rect x="931" y="221" width="5" height="31" fill="#ff0000"/>
<rect x="940" y="199" width="1" height="45" fill="#006e00"/>
<rect x="938" y="201" width="5" height="40" fill="#008000"/>
<rect x="946" y="182" width="1" height="75" fill="#b4001c"/>
<rect x="944" y="182" width="5" height="59" fill="#ff0000"/>
<rect x="952" y="139" width="1" height="41" fill="#b4001c"/>
<rect x="950" y="179" width="5" height="1" fill="#ff0000"/>
<rect x="958" y="190" width="1" height="40" fill="#006e00"/>
<rect x="956" y="190" width="5" height="11" fill="#008000"/>
<rect x="964" y="187" width="1" height="28" fill="#006e00"/>
<rect x="962" y="201" width="5" height="2" fill="#008000"/>
<rect x="970" y="187" width="1" height="25" fill="#b4001c"/>
<rect x="968" y="196" width="5" height="5" fill="#ff0000"/>
<rect x="976" y="131" width="1" height="70" fill="#b4001c"/>
<rect x="974" y="131" width="5" height="70" fill="#ff0000"/>
<rect x="983" y="63" width="1" height="54" fill="#b4001c"/>
<rect x="981" y="100" width="5" height="17" fill="#ff0000"/>
<rect x="989" y="78" width="1" height="73" fill="#006e00"/>
<rect x="987" y="94" width="5" height="26" fill="#008000"/>
<rect x="995" y="89" width="1" height="76" fill="#b4001c"/>
<rect x="993" y="106" width="5" height="45" fill="#ff0000"/>
<rect x="1001" y="35" width="1" height="74" fill="#b4001c"/>
<rect x="999" y="35" width="5" height="71" fill="#ff0000"/>
</svg>
<div class="t" style="left:6.20px;top:5.92px;font:bold 16px 'Liberation Sans',sans-serif;color:#141440;transform:scale(0.992,0.983)">2014/10/14</div>
<div class="t" style="left:106.41px;top:5.92px;font:16px 'Liberation Sans',sans-serif;color:#141440;transform:scale(0.851,0.983)">2482</div>
<div class="t" style="left:141.52px;top:5.71px;font:500 16px 'Liberation Sans',sans-serif;color:#141440;transform:scale(1.016,0.858)">連宇</div>
<div class="t" style="left:269.38px;top:2.90px;font:500 16px 'Liberation Sans',sans-serif;color:#000010;transform:scale(1.121,1.047)">開</div>
<div class="t" style="left:293.01px;top:6.40px;font:bold 18px 'Liberation Serif',serif;color:#7c7c7c;transform:scale(0.994,0.900)">18.1</div>
<div class="t" style="left:377.19px;top:4.03px;font:500 16px 'Liberation Sans',sans-serif;color:#000010;transform:scale(0.950,0.982)">高</div>
<div class="t" style="left:399.13px;top:5.36px;font:bold 18px 'Liberation Serif',serif;color:#cc0022;transform:scale(0.974,0.914)">19.35</div>
<div class="t" style="left:483.32px;top:2.98px;font:500 16px 'Liberation Sans',sans-serif;color:#000010;transform:scale(1.020,1.051)">低</div>
<div class="t" style="left:505.87px;top:5.36px;font:bold 18px 'Liberation Serif',serif;color:#107010;transform:scale(0.937,0.914)">18.05</div>
<div class="t" style="left:587.00px;top:2.90px;font:500 16px 'Liberation Sans',sans-serif;color:#000010;transform:scale(1.029,1.040)">收</div>
<div class="t" style="left:610.64px;top:5.36px;font:bold 18px 'Liberation Serif',serif;color:#cc0022;transform:scale(0.962,0.914)">19.35</div>
<div class="t" style="left:693.80px;top:2.93px;font:18px 'Liberation Sans',sans-serif;color:#cc0022;transform:scale(1.293,0.893)">△</div>
<div class="t" style="left:713.07px;top:5.36px;font:bold 18px 'Liberation Serif',serif;color:#cc0022;transform:scale(0.933,0.914)">1.25</div>
<div class="t" style="left:780.21px;top:3.95px;font:18px 'Liberation Serif',serif;color:#202040;transform:scale(0.874,0.910)">(6.91%)</div>
<div class="t" style="left:860.00px;top:2.90px;font:500 16px 'Liberation Sans',sans-serif;color:#000010;transform:scale(1.081,1.121)">量</div>
<div class="t" style="left:881.30px;top:5.36px;font:18px 'Liberation Serif',serif;color:#202040;transform:scale(0.897,0.914)">6259</div>
<div class="t" style="left:914.93px;top:-1.09px;font:18px 'Liberation Serif',serif;color:#202040;transform:scale(1.416,1.318)">↑</div>
<div class="t" style="left:930.09px;top:2.90px;font:500 16px 'Liberation Sans',sans-serif;color:#000010;transform:scale(1.058,1.047)">張</div>
<div class="t" style="left:993.40px;top:2.90px;font:500 16px 'Liberation Sans',sans-serif;color:#000010;transform:scale(1.086,1.047)">日線</div>
<div class="t" style="left:88.78px;top:38.68px;font:19px 'Liberation Serif',serif;color:#e0922e;transform:scale(0.906,1.008)">M20</div>
<div class="t" style="left:212.89px;top:38.68px;font:19px 'Liberation Serif',serif;color:#e0922e;transform:scale(0.905,1.008)">16.81</div>
<div class="t" style="left:253.03px;top:35.05px;font:19px 'Liberation Serif',serif;color:#e0922e;transform:scale(1.727,1.273)">↑</div>
<div class="t" style="left:88.78px;top:61.32px;font:19px 'Liberation Serif',serif;color:#cc1c1c;transform:scale(0.906,0.979)">M60</div>
<div class="t" style="left:212.93px;top:61.32px;font:19px 'Liberation Serif',serif;color:#cc1c1c;transform:scale(0.883,0.979)">14.76</div>
<div class="t" style="left:254.74px;top:55.98px;font:19px 'Liberation Serif',serif;color:#cc1c1c;transform:scale(1.480,1.364)">↑</div>
<div class="t" style="left:87.74px;top:82.53px;font:19px 'Liberation Serif',serif;color:#5c1a6c;transform:scale(0.961,1.023)">M120</div>
<div class="t" style="left:211.89px;top:82.53px;font:19px 'Liberation Serif',serif;color:#5c1a6c;transform:scale(0.905,1.023)">14.29</div>
<div class="t" style="left:253.03px;top:78.95px;font:19px 'Liberation Serif',serif;color:#5c1a6c;transform:scale(1.727,1.273)">↑</div>
<div class="t" style="left:87.74px;top:103.94px;font:19px 'Liberation Serif',serif;color:#1a1aa8;transform:scale(0.961,1.054)">M240</div>
<div class="t" style="left:211.89px;top:103.94px;font:19px 'Liberation Serif',serif;color:#1a1aa8;transform:scale(0.905,1.054)">15.12</div>
<div class="t" style="left:253.74px;top:99.88px;font:19px 'Liberation Serif',serif;color:#1a1aa8;transform:scale(1.480,1.364)">↑</div>
<div class="t" style="left:86.81px;top:447.63px;font:19px 'Liberation Serif',serif;color:#141428;transform:scale(0.900,1.023)">VOL</div>
<div class="t" style="left:210.45px;top:447.63px;font:19px 'Liberation Serif',serif;color:#141428;transform:scale(0.951,1.023)">6259</div>
<div class="t" style="left:245.64px;top:444.05px;font:19px 'Liberation Serif',serif;color:#141428;transform:scale(1.757,1.273)">↑</div>
<div class="t" style="left:85.77px;top:470.32px;font:19px 'Liberation Serif',serif;color:#c01c1c;transform:scale(1.025,0.979)">5</div>
<div class="t" style="left:210.41px;top:470.32px;font:19px 'Liberation Serif',serif;color:#c01c1c;transform:scale(0.936,0.979)">4821</div>
<div class="t" style="left:247.12px;top:464.98px;font:19px 'Liberation Serif',serif;color:#c01c1c;transform:scale(1.669,1.364)">↑</div>
<div class="t" style="left:84.89px;top:490.86px;font:19px 'Liberation Serif',serif;color:#1c1ca0;transform:scale(0.953,0.979)">10</div>
<div class="t" style="left:209.43px;top:490.86px;font:19px 'Liberation Serif',serif;color:#1c1ca0;transform:scale(0.978,0.979)">3100</div>
<div class="t" style="left:244.82px;top:487.05px;font:19px 'Liberation Serif',serif;color:#1c1ca0;transform:scale(1.968,1.273)">↑</div>
<div class="t" style="left:42.38px;top:77.69px;font:20px 'Liberation Serif',serif;color:#101020;transform:scale(0.792,0.971)">18.4</div>
<div class="t" style="left:42.38px;top:134.09px;font:20px 'Liberation Serif',serif;color:#101020;transform:scale(0.792,0.971)">17.4</div>
<div class="t" style="left:42.38px;top:191.49px;font:20px 'Liberation Serif',serif;color:#101020;transform:scale(0.792,0.971)">16.4</div>
<div class="t" style="left:42.38px;top:246.89px;font:20px 'Liberation Serif',serif;color:#101020;transform:scale(0.792,0.971)">15.4</div>
<div class="t" style="left:42.38px;top:304.29px;font:20px 'Liberation Serif',serif;color:#101020;transform:scale(0.792,0.971)">14.4</div>
<div class="t" style="left:42.38px;top:359.69px;font:20px 'Liberation Serif',serif;color:#101020;transform:scale(0.792,0.971)">13.4</div>
<div class="t" style="left:34.57px;top:483.13px;font:20px 'Liberation Serif',serif;color:#101020;transform:scale(0.916,0.962)">5000</div>
<div class="t" style="left:35.61px;top:529.13px;font:20px 'Liberation Serif',serif;color:#101020;transform:scale(0.890,0.962)">3000</div>
<div class="t" style="left:33.60px;top:576.13px;font:20px 'Liberation Serif',serif;color:#101020;transform:scale(0.940,0.895)">1000</div>
<div class="t" style="left:168.44px;top:622.73px;font:20px 'Liberation Serif',serif;color:#101020;transform:scale(0.777,0.957)">04</div>
<div class="t" style="left:297.33px;top:622.73px;font:20px 'Liberation Serif',serif;color:#101020;transform:scale(0.874,0.957)">05</div>
<div class="t" style="left:425.66px;top:622.73px;font:20px 'Liberation Serif',serif;color:#101020;transform:scale(0.908,0.957)">06</div>
<div class="t" style="left:548.54px;top:622.73px;font:20px 'Liberation Serif',serif;color:#101020;transform:scale(0.840,0.957)">07</div>
<div class="t" style="left:685.08px;top:622.73px;font:20px 'Liberation Serif',serif;color:#101020;transform:scale(0.870,0.957)">08</div>
<div class="t" style="left:813.89px;top:622.73px;font:20px 'Liberation Serif',serif;color:#101020;transform:scale(0.865,0.957)">09</div>
<div class="t" style="left:942.60px;top:622.73px;font:20px 'Liberation Serif',serif;color:#101020;transform:scale(0.900,0.957)">10</div>
</body></html>
